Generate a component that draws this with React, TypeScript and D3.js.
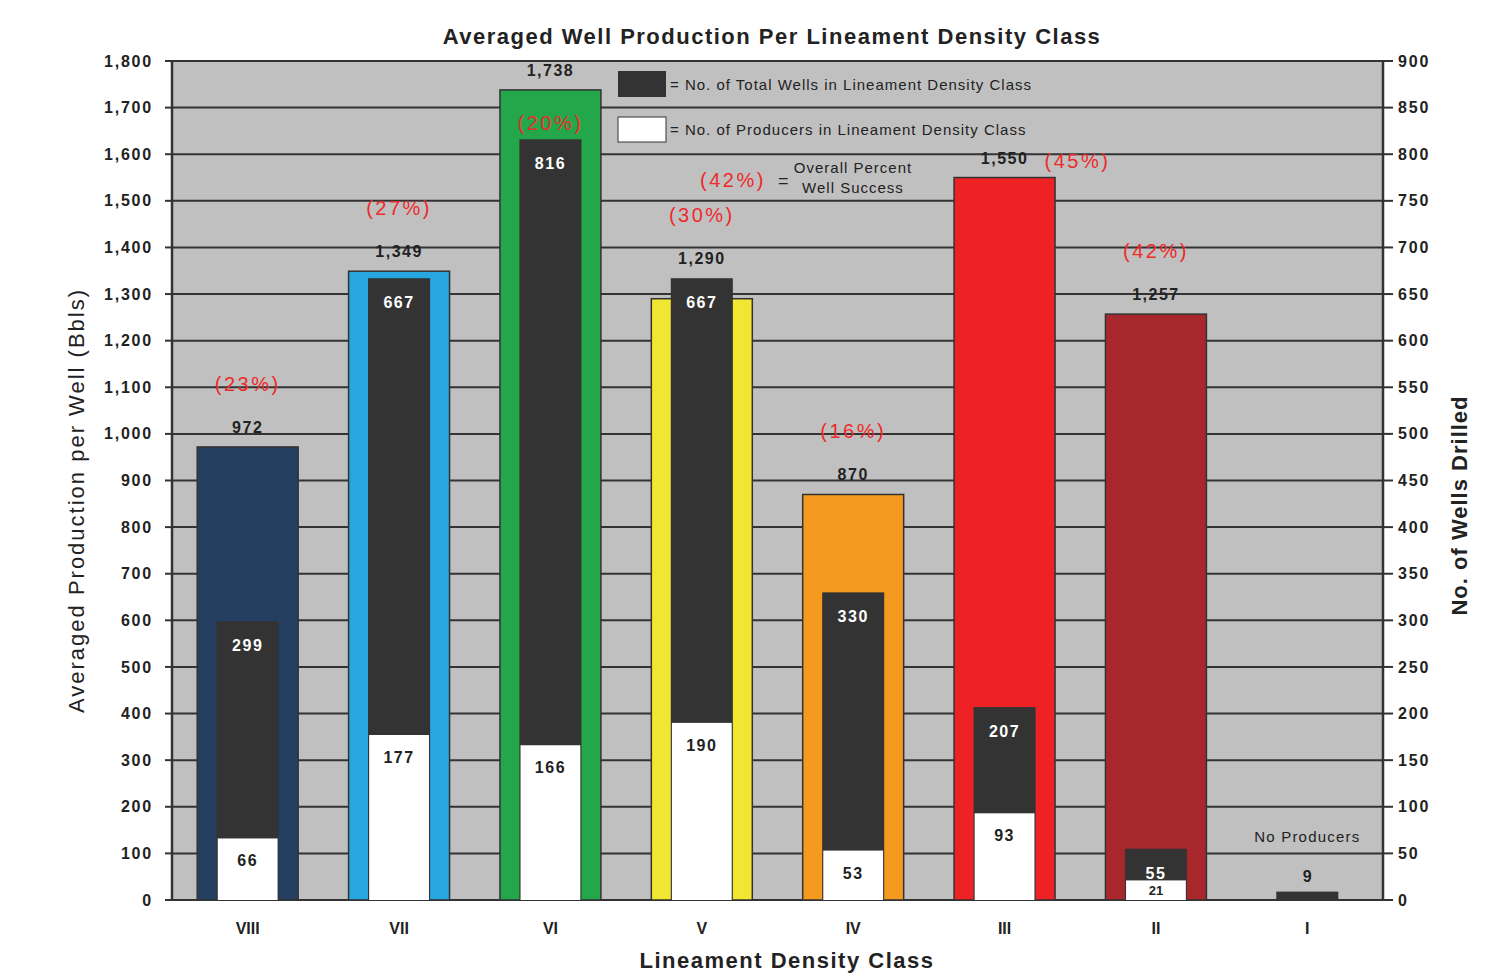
import * as d3 from 'd3';

const classes = ['VIII', 'VII', 'VI', 'V', 'IV', 'III', 'II', 'I'];
const production = [972, 1349, 1738, 1290, 870, 1550, 1257, 0];
const productionLabels = ['972', '1,349', '1,738', '1,290', '870', '1,550', '1,257', ''];
const totalWells = [299, 667, 816, 667, 330, 207, 55, 9];
const producers = [66, 177, 166, 190, 53, 93, 21, 0];
const successPct = ['(23%)', '(27%)', '(20%)', '(30%)', '(16%)', '(45%)', '(42%)', ''];
const pctPlacement = ['above', 'above', 'inside', 'above', 'above', 'right', 'above', 'none'];
const classColors = ['#253f60', '#27a7e1', '#23a74a', '#f1e631', '#f49a1f', '#ee2225', '#a8272d', '#c0c0c0'];
const leftTicks = d3.range(0, 1801, 100);
const rightTicks = d3.range(0, 901, 50);

const W = 1511;
const H = 979;
const margin = { top: 61, right: 128, bottom: 79, left: 172 };
const innerW = W - margin.left - margin.right;
const innerH = H - margin.top - margin.bottom;

const x = d3.scaleBand<string>().domain(classes).range([0, innerW]);
const yL = d3.scaleLinear().domain([0, 1800]).range([innerH, 0]);
const yR = d3.scaleLinear().domain([0, 900]).range([innerH, 0]);

const fmt = d3.format(',');
const font = 'Liberation Sans, Arial, sans-serif';
const ink = '#333333';
const red = '#ee2a2a';

export default function App() {
  const bw = x.bandwidth();
  const outerW = bw * 0.667;
  const wellW = bw * 0.41;
  const prodW = bw * 0.395;

  return (
    <svg width={W} height={H} style={{ position: 'absolute', left: 0, top: 0, fontFamily: font }}>
      <text x={772} y={44} textAnchor="middle" fontSize={22} fontWeight="bold" letterSpacing={1.5} fill="#222">
        Averaged Well Production Per Lineament Density Class
      </text>
      <g transform={`translate(${margin.left},${margin.top})`}>
        <rect x={0} y={0} width={innerW} height={innerH} fill="#c0c0c0" />
        {leftTicks.map((t) => (
          <g key={'l' + t}>
            <line x1={0} x2={innerW} y1={yL(t)} y2={yL(t)} stroke={ink} strokeWidth={2} />
            <line x1={-7} x2={0} y1={yL(t)} y2={yL(t)} stroke={ink} strokeWidth={2} />
            <text x={-19} y={yL(t)} dy="0.35em" textAnchor="end" fontSize={16} fontWeight="bold" letterSpacing={1.8} fill="#222">
              {fmt(t)}
            </text>
          </g>
        ))}
        {rightTicks.map((t) => (
          <g key={'r' + t}>
            <line x1={innerW} x2={innerW + 10} y1={yR(t)} y2={yR(t)} stroke={ink} strokeWidth={2} />
            <text x={innerW + 15} y={yR(t)} dy="0.35em" fontSize={16} fontWeight="bold" letterSpacing={1.8} fill="#222">
              {t}
            </text>
          </g>
        ))}
        <line x1={0} x2={0} y1={0} y2={innerH} stroke={ink} strokeWidth={2.5} />
        <line x1={innerW} x2={innerW} y1={0} y2={innerH} stroke={ink} strokeWidth={2.5} />
        <line x1={0} x2={innerW} y1={innerH} y2={innerH} stroke={ink} strokeWidth={2} />

        {classes.map((c, i) => {
          const cx = (x(c) ?? 0) + bw / 2;
          const pTop = yL(production[i]);
          const wTop = yR(totalWells[i]);
          const prTop = yR(producers[i]);
          const labelY = Math.min(pTop, wTop) - 14;
          const wellH = innerH - wTop;
          const prodH = innerH - prTop;
          return (
            <g key={c}>
              {production[i] > 0 && (
                <rect x={cx - outerW / 2} y={pTop} width={outerW} height={innerH - pTop}
                  fill={classColors[i]} stroke={ink} strokeWidth={1.5} />
              )}
              <rect x={cx - wellW / 2} y={wTop} width={wellW} height={wellH} fill={ink} />
              {producers[i] > 0 && (
                <rect x={cx - prodW / 2} y={prTop} width={prodW} height={prodH} fill="#ffffff" />
              )}
              {production[i] > 0 ? (
                <text x={cx} y={labelY} textAnchor="middle" fontSize={16} fontWeight="bold" letterSpacing={1.5} fill="#222">
                  {productionLabels[i]}
                </text>
              ) : null}
              {pctPlacement[i] === 'above' && (
                <text x={cx} y={labelY - 42} textAnchor="middle" fontSize={20} letterSpacing={2.5} fill={red}>
                  {successPct[i]}
                </text>
              )}
              {pctPlacement[i] === 'inside' && (
                <text x={cx} y={pTop + 40} textAnchor="middle" fontSize={20} letterSpacing={2.5} fill={red}>
                  {successPct[i]}
                </text>
              )}
              {pctPlacement[i] === 'right' && (
                <text x={cx + 40} y={labelY + 4} fontSize={20} letterSpacing={2.5} fill={red}>
                  {successPct[i]}
                </text>
              )}
              {wellH > 40 ? (
                <text x={cx} y={wTop + 30} textAnchor="middle" fontSize={16} fontWeight="bold" letterSpacing={1.5} fill="#fff">
                  {totalWells[i]}
                </text>
              ) : wellH > 25 ? (
                <text x={cx} y={wTop + 25} textAnchor="middle" fontSize={16} fontWeight="bold" letterSpacing={1.5} fill="#fff">
                  {totalWells[i]}
                </text>
              ) : (
                <text x={cx} y={wTop - 10} textAnchor="middle" fontSize={16} fontWeight="bold" fill="#222">
                  {totalWells[i]}
                </text>
              )}
              {producers[i] > 0 && (prodH > 30 ? (
                <text x={cx} y={prTop + 28} textAnchor="middle" fontSize={16} fontWeight="bold" letterSpacing={1.5} fill="#222">
                  {producers[i]}
                </text>
              ) : (
                <text x={cx} y={prTop + prodH / 2} dy="0.38em" textAnchor="middle" fontSize={13} fontWeight="bold" fill="#222">
                  {producers[i]}
                </text>
              ))}
              {producers[i] === 0 && (
                <text x={cx} y={innerH - 58} textAnchor="middle" fontSize={15} letterSpacing={1.2} fill="#222">
                  No Producers
                </text>
              )}
              <text x={cx} y={innerH + 34} textAnchor="middle" fontSize={16} fontWeight="bold" fill="#222">
                {c}
              </text>
            </g>
          );
        })}

        {/* legend */}
        <g transform={`translate(${618 - margin.left},${71 - margin.top})`}>
          <rect x={0} y={0} width={48} height={26} fill={ink} />
          <text x={52} y={19} fontSize={15} letterSpacing={1} fill="#222">= No. of Total Wells in Lineament Density Class</text>
          <rect x={0} y={46} width={48} height={25} fill="#fff" stroke={ink} strokeWidth={1} />
          <text x={52} y={64} fontSize={15} letterSpacing={1} fill="#222">= No. of Producers in Lineament Density Class</text>
          <text x={82} y={116} fontSize={20} letterSpacing={2.5} fill={red}>(42%)</text>
          <text x={160} y={116} fontSize={18} fill="#222">=</text>
          <text x={235} y={102} textAnchor="middle" fontSize={15} letterSpacing={1} fill="#222">Overall Percent</text>
          <text x={235} y={122} textAnchor="middle" fontSize={15} letterSpacing={1} fill="#222">Well Success</text>
        </g>

        <text transform={`translate(-88,${innerH / 2 + 20}) rotate(-90)`} textAnchor="middle" fontSize={22} letterSpacing={2} fill="#222">
          Averaged Production per Well (Bbls)
        </text>
        <text transform={`translate(${innerW + 84},${innerH / 2 + 25}) rotate(-90)`} textAnchor="middle" fontSize={22} fontWeight="bold" letterSpacing={1} fill="#222">
          No. of Wells Drilled
        </text>
        <text x={787 - margin.left} y={innerH + 68} textAnchor="middle" fontSize={22} fontWeight="bold" letterSpacing={1.5} fill="#222">
          Lineament Density Class
        </text>
      </g>
    </svg>
  );
}
